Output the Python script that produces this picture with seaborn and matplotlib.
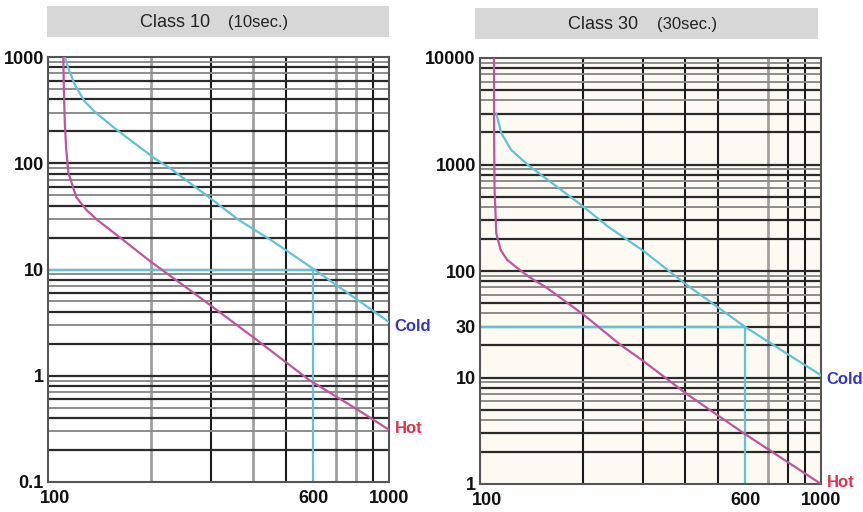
import numpy as np
import pandas as pd
import matplotlib
matplotlib.use("Agg")
import matplotlib.pyplot as plt
import matplotlib.transforms as mtransforms
from matplotlib.patches import Rectangle
from matplotlib.ticker import LogLocator, NullFormatter, FixedLocator
import seaborn as sns

# ---------------- data ----------------
class10_cold_I = [112, 114.7, 119.9, 128.3, 137.2, 157, 179.5, 205.5, 230, 304, 364, 450, 596, 800, 1000]
class10_cold_t = [1000, 783, 545, 379, 305, 213, 154, 111, 88, 45, 29, 19, 10.3, 5.3, 3.2]
class10_hot_I = [110.9, 111.3, 112, 113, 114.7, 121, 130, 140, 166, 199, 278, 400, 584, 800, 1000]
class10_hot_t = [1000, 500, 246, 140, 82, 48, 36, 29, 19, 12.0, 5.5, 2.3, 0.91, 0.49, 0.31]

class30_cold_I = [111.6, 115.5, 123.5, 138.3, 165.5, 198, 237.4, 301, 404, 598, 800, 1000]
class30_cold_t = [3025, 1963, 1368, 988, 642, 417, 261, 155, 74, 30, 16.5, 10.5]
class30_hot_I = [109.9, 110.0, 110.3, 111.6, 115, 120.2, 132, 138, 146, 156.5, 201, 257.5, 301, 404, 598, 800, 1000]
class30_hot_t = [10000, 2000, 600, 226, 157, 127, 100, 90, 80, 70, 39, 20.4, 14.3, 7.0, 2.95, 1.6, 1.0]

class10_ref = (600, 10)
class30_ref = (600, 30)

class10_yticks = [0.1, 1, 10, 100, 1000]
class10_ylabels = ["0.1", "1", "10", "100", "1000"]
class30_yticks = [1, 10, 30, 100, 1000, 10000]
class30_ylabels = ["1", "10", "30", "100", "1000", "10000"]
xticks = [100, 600, 1000]
xlabels = ["100", "600", "1000"]

titles = [("Class 10", "(10sec.)"), ("Class 30", "(30sec.)")]

COLD = "#62c3d3"
HOT = "#c0559b"

# ---------------- figure ----------------
sns.set_style("white")
plt.rcParams['font.family'] = ['Liberation Sans', 'DejaVu Sans']

W, H = 863, 512
fig = plt.figure(figsize=(W / 100, H / 100), dpi=100)
fig.patch.set_facecolor("white")


def px_rect(x0, y0, x1, y1):
    return [x0 / W, 1 - y1 / H, (x1 - x0) / W, (y1 - y0) / H]


ax1 = fig.add_axes(px_rect(48, 57, 389, 482))
ax2 = fig.add_axes(px_rect(480, 58, 821, 484))
ax2.set_facecolor("#fcfaf3")


def style_axes(ax, ylim, yticks, ylabels, xdark, ydark):
    ax.set_xscale("log")
    ax.set_yscale("log")
    ax.set_xlim(100, 1000)
    ax.set_ylim(*ylim)
    ax.xaxis.set_major_locator(FixedLocator(xticks))
    ax.set_xticklabels(xlabels)
    ax.xaxis.set_minor_locator(LogLocator(10, subs=np.arange(2, 10), numticks=20))
    ax.yaxis.set_minor_locator(LogLocator(10, subs=np.arange(2, 10), numticks=20))
    ax.yaxis.set_major_locator(FixedLocator(yticks))
    ax.set_yticklabels(ylabels)
    ax.xaxis.set_minor_formatter(NullFormatter())
    ax.yaxis.set_minor_formatter(NullFormatter())
    ax.tick_params(which="both", length=0)
    ax.tick_params(axis="y", pad=3, labelsize=13)
    ax.tick_params(axis="x", pad=6, labelsize=13)
    for lab in ax.get_xticklabels() + ax.get_yticklabels():
        lab.set_fontweight("bold")
        lab.set_color("#111111")
    ax.set_xlabel("")
    ax.set_ylabel("")
    # vertical grid lines
    for loc in ax.xaxis.get_minorticklocs():
        if 100 < loc < 1000:
            m = int(round(loc / 100))
            dark = m in xdark
            ax.axvline(loc, color="#1a1a1a" if dark else "#a0a0a0",
                       lw=1.5 if dark else 2.0, zorder=1)
    # horizontal grid lines
    ylo, yhi = ylim
    for loc in list(ax.yaxis.get_minorticklocs()) + list(ax.yaxis.get_majorticklocs()):
        if ylo < loc < yhi:
            mant = int(round(loc / 10 ** np.floor(np.log10(loc) + 1e-9)))
            dark = mant in ydark
            ax.axhline(loc, color="#2a2a2a" if dark else "#8c8c8c",
                       lw=1.6 if dark else 1.4, zorder=1)
    for s in ax.spines.values():
        s.set_color("#555555")
        s.set_linewidth(1.5)
    # shift first x label right so it clears the y label
    lab0 = ax.get_xticklabels()[0]
    lab0.set_transform(lab0.get_transform() +
                       mtransforms.ScaledTranslation(0.07, 0, fig.dpi_scale_trans))


style_axes(ax1, (0.1, 1000), class10_yticks, class10_ylabels,
           xdark={3, 5, 9}, ydark={1, 2, 4, 6, 8})
style_axes(ax2, (1, 10000), class30_yticks, class30_ylabels,
           xdark={2, 3, 4, 5, 6, 8, 9}, ydark={1, 2, 3, 5, 8})


def draw_curves(ax, cI, ct, hI, ht, ref):
    df = pd.concat([
        pd.DataFrame({"I": cI, "t": ct, "curve": "Cold"}),
        pd.DataFrame({"I": hI, "t": ht, "curve": "Hot"}),
    ])
    sns.lineplot(data=df, x="I", y="t", hue="curve",
                 palette={"Cold": COLD, "Hot": HOT}, sort=False,
                 estimator=None, legend=False, lw=1.6, ax=ax, zorder=3)
    rI, rt = ref
    ax.hlines(rt, 100, rI, color=COLD, lw=1.6, zorder=2)
    ax.vlines(rI, ax.get_ylim()[0], rt, color=COLD, lw=1.6, zorder=2)
    ax.set_xlabel("")
    ax.set_ylabel("")
    ax.annotate("Cold", (cI[-1], ct[-1]), xytext=(4, -3), textcoords="offset points",
                ha="left", va="center", color="#3535c8", fontsize=12,
                fontweight="bold", annotation_clip=False)
    ax.annotate("Hot", (hI[-1], ht[-1]), xytext=(4, 1), textcoords="offset points",
                ha="left", va="center", color="#e0304a", fontsize=12,
                fontweight="bold", annotation_clip=False)


draw_curves(ax1, class10_cold_I, class10_cold_t, class10_hot_I, class10_hot_t, class10_ref)
draw_curves(ax2, class30_cold_I, class30_cold_t, class30_hot_I, class30_hot_t, class30_ref)

# title boxes
boxes = [(47, 6, 389, 37), (475, 8, 818, 39)]
for (x0, y0, x1, y1), (t1, t2) in zip(boxes, titles):
    fig.patches.append(Rectangle((x0 / W, 1 - y1 / H), (x1 - x0) / W, (y1 - y0) / H,
                                 transform=fig.transFigure, facecolor="#d7d7d7",
                                 edgecolor="none", zorder=0))
    cx = (x0 + x1) / 2
    cy = 1 - ((y0 + y1) / 2 + 1) / H
    fig.text((cx + 2) / W, cy, t1 + "  ", ha="right", va="center",
             fontsize=13, color="#222222")
    fig.text((cx + 10) / W, cy, t2, ha="left", va="center",
             fontsize=12, color="#222222")

fig.savefig("out.png", dpi=100)
